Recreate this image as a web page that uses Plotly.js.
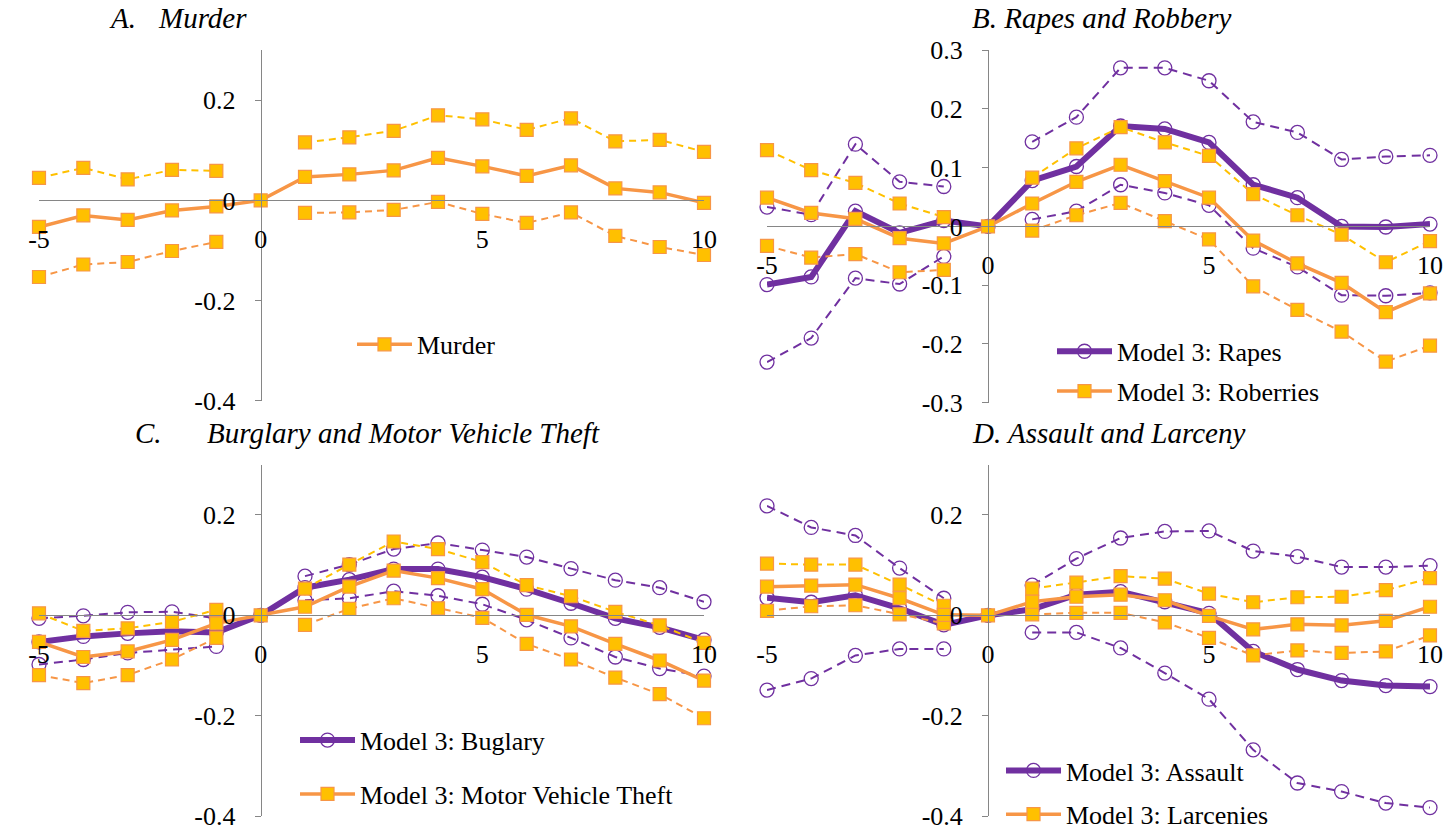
<!DOCTYPE html>
<html><head><meta charset="utf-8">
<script src="https://cdn.plot.ly/plotly-3.0.1.min.js"></script>
<style>html,body{margin:0;padding:0;background:#fff}#chart{width:1449px;height:838px}</style>
</head><body><div id="chart"></div>
<script>
// ---------- DATA ----------
const lags = [-5,-4,-3,-2,-1,0,1,2,3,4,5,6,7,8,9,10];

// Panel A: Murder
const murder   = [-0.053,-0.030,-0.039,-0.020,-0.012,0, 0.047,0.052,0.060,0.085,0.068,0.049,0.070,0.024,0.016,-0.005];
const murderHi = [0.045,0.065,0.042,0.061,0.059,null, 0.116,0.126,0.139,0.170,0.162,0.141,0.164,0.118,0.121,0.097];
const murderLo = [-0.153,-0.128,-0.123,-0.101,-0.083,null, -0.025,-0.024,-0.019,-0.003,-0.027,-0.045,-0.024,-0.071,-0.093,-0.109];

// Panel B: Rapes and Robbery
const rapes     = [-0.099,-0.086,0.026,-0.011,0.010,0, 0.078,0.102,0.171,0.166,0.143,0.071,0.049,0.000,-0.001,0.004];
const rapesHi   = [0.033,0.020,0.140,0.076,0.068,null, 0.144,0.186,0.270,0.270,0.248,0.178,0.160,0.114,0.119,0.121];
const rapesLo   = [-0.231,-0.190,-0.088,-0.098,-0.051,null, 0.012,0.026,0.071,0.057,0.036,-0.037,-0.069,-0.117,-0.118,-0.113];
const robbery   = [0.049,0.023,0.013,-0.020,-0.029,0, 0.039,0.076,0.105,0.077,0.049,-0.024,-0.063,-0.096,-0.146,-0.114];
const robberyHi = [0.130,0.096,0.074,0.039,0.016,null, 0.083,0.133,0.169,0.143,0.120,0.055,0.019,-0.014,-0.061,-0.025];
const robberyLo = [-0.033,-0.053,-0.047,-0.078,-0.074,null, -0.007,0.019,0.040,0.009,-0.022,-0.102,-0.142,-0.179,-0.230,-0.203];

// Panel C: Burglary and Motor Vehicle Theft
const burglary   = [-0.053,-0.042,-0.036,-0.032,-0.034,0, 0.055,0.071,0.092,0.092,0.076,0.052,0.024,-0.006,-0.024,-0.049];
const burglaryHi = [-0.006,-0.001,0.006,0.007,-0.006,null, 0.078,0.101,0.132,0.144,0.130,0.116,0.093,0.070,0.055,0.027];
const burglaryLo = [-0.098,-0.088,-0.075,-0.068,-0.062,null, 0.030,0.034,0.048,0.039,0.022,-0.009,-0.045,-0.083,-0.106,-0.121];
const mvt   = [-0.053,-0.083,-0.072,-0.049,-0.016,0, 0.017,0.057,0.089,0.074,0.052,0.001,-0.022,-0.057,-0.090,-0.130];
const mvtHi = [0.004,-0.031,-0.026,-0.013,0.011,null, 0.053,0.101,0.147,0.132,0.106,0.060,0.038,0.007,-0.020,-0.055];
const mvtLo = [-0.119,-0.135,-0.119,-0.088,-0.045,null, -0.019,0.013,0.034,0.014,-0.005,-0.057,-0.088,-0.124,-0.157,-0.205];

// Panel D: Assault and Larceny
const assault   = [0.035,0.026,0.040,0.014,-0.019,0, 0.012,0.041,0.047,0.027,0.004,-0.072,-0.108,-0.130,-0.140,-0.142];
const assaultHi = [0.218,0.175,0.159,0.094,0.034,null, 0.060,0.113,0.154,0.167,0.168,0.128,0.117,0.096,0.096,0.099];
const assaultLo = [-0.149,-0.126,-0.080,-0.067,-0.067,null, -0.034,-0.034,-0.065,-0.115,-0.167,-0.268,-0.334,-0.351,-0.374,-0.383];
const larceny   = [0.057,0.059,0.061,0.034,0.001,0, 0.027,0.037,0.041,0.030,-0.001,-0.028,-0.018,-0.020,-0.011,0.017];
const larcenyHi = [0.103,0.101,0.101,0.061,0.019,null, 0.053,0.065,0.078,0.073,0.043,0.026,0.036,0.037,0.050,0.074];
const larcenyLo = [0.009,0.018,0.020,0.002,-0.016,null, 0.002,0.005,0.005,-0.014,-0.045,-0.080,-0.070,-0.075,-0.072,-0.040];

const xTickVals = [-5,0,5,10];
const xTickText = ['-5','0','5','10'];
const yTickValsWide = [-0.4,-0.2,0,0.2];
const yTickTextWide = ['-0.4','-0.2','0','0.2'];
const yTickValsB = [-0.3,-0.2,-0.1,0,0.1,0.2,0.3];
const yTickTextB = ['-0.3','-0.2','-0.1','0','0.1','0.2','0.3'];

const titles = [
  {letter:'A.', text:'Murder'},
  {letter:'B.', text:'Rapes and Robbery'},
  {letter:'C.', text:'Burglary and Motor Vehicle Theft'},
  {letter:'D.', text:'Assault and Larceny'}
];
const legendNames = {
  murder:'Murder', rapes:'Model 3: Rapes', robbery:'Model 3: Roberries',
  burglary:'Model 3: Buglary', mvt:'Model 3: Motor Vehicle Theft',
  assault:'Model 3: Assault', larceny:'Model 3: Larcenies'
};

// ---------- STYLES ----------
const PURPLE = '#7030A0', ORANGE = '#F79646', YELLOW = '#FFC000';
const FONT = 'Times New Roman, Liberation Serif, DejaVu Serif, serif';
const W = 1449, H = 838;
const px = v => v / W;
const py = v => 1 - v / H;

const circMarker = {symbol:'circle-open', size:14, color:PURPLE, line:{width:1.3, color:PURPLE}};
const sqMarker = {symbol:'square', size:13, color:YELLOW, line:{width:1.2, color:ORANGE}};

function sq(y, name, xa, ya, leg, grp){
  return {x:lags, y:y, type:'scatter', mode:'lines+markers', name:name, xaxis:xa, yaxis:ya,
    legend:leg, legendgroup:grp, line:{color:ORANGE, width:3.5}, marker:sqMarker, cliponaxis:false};
}
function sqCI(y, color, xa, ya){
  return {x:lags, y:y, type:'scatter', mode:'lines+markers', showlegend:false, xaxis:xa, yaxis:ya,
    connectgaps:false, line:{color:color, width:2, dash:'7px,5px'}, marker:sqMarker, cliponaxis:false, hoverinfo:'skip'};
}
function ci(y, xa, ya){
  return {x:lags, y:y, type:'scatter', mode:'lines+markers', showlegend:false, xaxis:xa, yaxis:ya,
    connectgaps:false, line:{color:PURPLE, width:2, dash:'9px,6px'}, marker:circMarker, cliponaxis:false, hoverinfo:'skip'};
}
function pu(y, name, xa, ya, leg, grp){
  return {x:lags, y:y, type:'scatter', mode:'lines+markers', name:name, xaxis:xa, yaxis:ya,
    legend:leg, legendgroup:grp, line:{color:PURPLE, width:6}, marker:circMarker, cliponaxis:false};
}

const traces = [
  // A
  sqCI(murderHi, YELLOW, 'x','y'), sqCI(murderLo, ORANGE, 'x','y'),
  sq(murder, legendNames.murder, 'x','y','legend','a1'),
  // B
  ci(rapesHi,'x2','y2'), ci(rapesLo,'x2','y2'),
  pu(rapes, legendNames.rapes, 'x2','y2','legend2','b1'),
  sqCI(robberyHi, YELLOW,'x2','y2'), sqCI(robberyLo, ORANGE,'x2','y2'),
  sq(robbery, legendNames.robbery, 'x2','y2','legend2','b2'),
  // C
  ci(burglaryHi,'x3','y3'), ci(burglaryLo,'x3','y3'),
  pu(burglary, legendNames.burglary, 'x3','y3','legend3','c1'),
  sqCI(mvtHi, YELLOW,'x3','y3'), sqCI(mvtLo, ORANGE,'x3','y3'),
  sq(mvt, legendNames.mvt, 'x3','y3','legend3','c2'),
  // D
  ci(assaultHi,'x4','y4'), ci(assaultLo,'x4','y4'),
  pu(assault, legendNames.assault, 'x4','y4','legend4','d1'),
  sqCI(larcenyHi, YELLOW,'x4','y4'), sqCI(larcenyLo, ORANGE,'x4','y4'),
  sq(larceny, legendNames.larceny, 'x4','y4','legend4','d2')
];

// panel geometry (pixels)
const panels = [
  {x0:39,  x1:704,  y0:51,  y1:407, yr:[-0.4,0.3], tv:yTickValsWide, tt:yTickTextWide},
  {x0:767, x1:1430, y0:51,  y1:409, yr:[-0.3,0.3], tv:yTickValsB,    tt:yTickTextB},
  {x0:39,  x1:704,  y0:472, y1:829, yr:[-0.4,0.3], tv:yTickValsWide, tt:yTickTextWide},
  {x0:767, x1:1430, y0:472, y1:829, yr:[-0.4,0.3], tv:yTickValsWide, tt:yTickTextWide}
];

const tickFont = {family:FONT, size:26, color:'#000'};
const layout = {
  width:W, height:H, margin:{l:0,r:0,t:0,b:0},
  paper_bgcolor:'#fff', plot_bgcolor:'rgba(0,0,0,0)',
  font:{family:FONT},
  showlegend:true, hovermode:false, annotations:[]
};
panels.forEach((p,i)=>{
  const s = i===0 ? '' : String(i+1);
  const xd = [px(p.x0), px(p.x1)];
  const yd = [py(p.y1), py(p.y0)];
  const xr = [-5,10];
  const yZeroFrac = yd[0] + (yd[1]-yd[0]) * (0 - p.yr[0])/(p.yr[1]-p.yr[0]);
  const xZeroFrac = xd[0] + (xd[1]-xd[0]) * (0 - xr[0])/(xr[1]-xr[0]);
  layout['xaxis'+s] = {domain:xd, range:xr, anchor:'free', position:yZeroFrac,
    tickmode:'array', tickvals:xTickVals, ticktext:xTickText, showline:true, linecolor:'#868686', linewidth:1,
    ticks:'', showgrid:false, zeroline:false, tickfont:tickFont, ticklabelstandoff:15, fixedrange:true};
  layout['yaxis'+s] = {domain:yd, range:p.yr, anchor:'free', position:xZeroFrac,
    tickmode:'array', tickvals:p.tv, ticktext:p.tt, showline:true, linecolor:'#868686', linewidth:1,
    ticks:'outside', ticklen:6, tickcolor:'#868686', showgrid:false, zeroline:false, tickfont:tickFont,
    ticklabelstandoff:14, fixedrange:true};
});

// titles
const titleFont = {family:FONT, size:29, color:'#000', style:'italic'};
const titlePos = [
  {lx:107, tx:156, y:18}, {lx:970, tx:null, y:18},
  {lx:133, tx:205, y:440}, {lx:970, tx:null, y:440}
];
titles.forEach((t,i)=>{
  const tp = titlePos[i];
  if (tp.tx === null) {
    layout.annotations.push({xref:'paper', yref:'paper', x:px(tp.lx), y:py(tp.y), xanchor:'left', yanchor:'middle',
      text:t.letter+' '+t.text, showarrow:false, font:titleFont});
  } else {
    layout.annotations.push({xref:'paper', yref:'paper', x:px(tp.lx), y:py(tp.y), xanchor:'left', yanchor:'middle',
      text:t.letter, showarrow:false, font:titleFont});
    layout.annotations.push({xref:'paper', yref:'paper', x:px(tp.tx), y:py(tp.y), xanchor:'left', yanchor:'middle',
      text:t.text, showarrow:false, font:titleFont});
  }
});

// legends
const legFont = {family:FONT, size:26, color:'#000'};
function leg(x, y, gap){
  return {x:px(x), y:py(y), xanchor:'left', yanchor:'top', bgcolor:'rgba(0,0,0,0)', borderwidth:0,
    font:legFont, tracegroupgap:gap, traceorder:'grouped', itemwidth:55, itemclick:false, itemdoubleclick:false};
}
layout.legend  = leg(352, 326, 0);
layout.legend2 = leg(1052, 333, 3);
layout.legend3 = leg(295, 728, 17);
layout.legend4 = leg(1001, 759, 7);

Plotly.newPlot('chart', traces, layout, {staticPlot:true, displayModeBar:false});
</script>
</body></html>
